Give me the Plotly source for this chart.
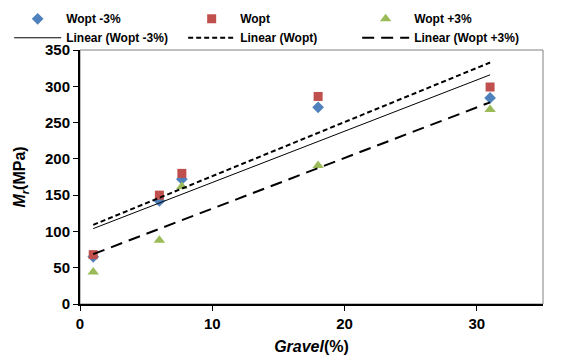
import numpy as np
import plotly.graph_objects as go

gravel = [1, 6, 7.7, 18, 31]
wopt_m3 = [65, 142, 172, 271, 284]
wopt = [68, 150, 180, 286, 299]
wopt_p3 = [44, 88, 162, 191, 268]

series = [
    ("Wopt -3%", wopt_m3, "diamond", "#4F81BD", 9, "solid", 1),
    ("Wopt", wopt, "square", "#C0504D", 9, "5px,3px", 2),
    ("Wopt +3%", wopt_p3, "triangle-up", "#9BBB59", 10, "12px,7px", 2),
]

fig = go.Figure()
for name, ys, sym, col, sz, dash, lw in series:
    fig.add_trace(go.Scatter(x=gravel, y=ys, mode="markers", name=name,
                             marker=dict(symbol=sym, color=col, size=sz)))
for name, ys, sym, col, sz, dash, lw in series:
    k, b = np.polyfit(gravel, ys, 1)
    xs = [min(gravel), max(gravel)]
    fig.add_trace(go.Scatter(x=xs, y=[k * v + b for v in xs], mode="lines",
                             name=f"Linear ({name})",
                             line=dict(color="black", width=lw, dash=dash)))

font = "Liberation Sans, Arial, sans-serif"
fig.update_layout(
    width=564, height=359,
    margin=dict(l=80, r=21, t=50, b=55, autoexpand=False),
    paper_bgcolor="white", plot_bgcolor="white",
    font=dict(family=font, color="black"),
    showlegend=True,
    legend=dict(orientation="h", x=-0.153, xanchor="left",
                y=1.18, yanchor="top",
                entrywidth=112, entrywidthmode="pixels",
                font=dict(size=12, family=font, weight="bold"),
                tracegroupgap=0, itemwidth=47,
                bgcolor="rgba(0,0,0,0)"),
    xaxis=dict(range=[0, 35], tickvals=[0, 10, 20, 30], showgrid=False, zeroline=False,
               showline=True, linecolor="black", linewidth=2,
               ticks="outside", ticklen=5, tickcolor="black",
               tickfont=dict(size=15, family=font, weight="bold"),
               title=dict(text="<b><i>Gravel</i>(%)</b>", font=dict(size=16, family=font), standoff=10)),
    yaxis=dict(range=[0, 350], tickvals=list(range(0, 351, 50)), showgrid=False, zeroline=False,
               showline=True, linecolor="black", linewidth=2,
               ticks="outside", ticklen=5, tickcolor="black",
               tickfont=dict(size=15, family=font, weight="bold"),
               title=dict(text="<b><i>M</i><sub><i>r</i></sub>(MPa)</b>", font=dict(size=16, family=font), standoff=15)),
    shapes=[dict(type="rect", xref="paper", yref="paper", x0=0, y0=0, x1=1, y1=1,
                 line=dict(color="#808080", width=1), layer="below")],
)
fig.write_html("out.html", config={"displayModeBar": False},
               post_script="document.body.style.margin='0';")
